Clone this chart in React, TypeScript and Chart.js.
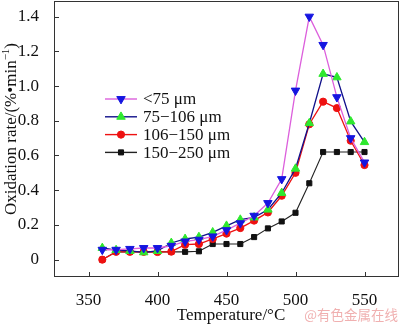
import React, { useEffect, useRef } from 'react';
import { Chart, registerables } from 'chart.js';
Chart.register(...registerables);

const temps = [360, 370, 380, 390, 400, 410, 420, 430, 440, 450, 460, 470, 480, 490, 500, 510, 520, 530, 540, 550];
const lt75 = [0.057, 0.057, 0.062, 0.067, 0.067, 0.08, 0.105, 0.115, 0.134, 0.17, 0.21, 0.253, 0.326, 0.464, 0.974, 1.4, 1.237, 0.936, 0.7, 0.56];
const s75to106 = [0.067, 0.055, 0.05, 0.042, 0.05, 0.096, 0.119, 0.13, 0.157, 0.195, 0.23, 0.243, 0.288, 0.384, 0.524, 0.786, 1.07, 1.05, 0.796, 0.677];
const s106to150 = [0, 0.045, 0.045, 0.045, 0.044, 0.046, 0.086, 0.09, 0.119, 0.15, 0.182, 0.225, 0.272, 0.368, 0.5, 0.78, 0.91, 0.873, 0.685, 0.545];
const s150to250 = [0, 0.045, 0.045, 0.045, 0.045, 0.045, 0.045, 0.048, 0.09, 0.09, 0.09, 0.13, 0.18, 0.22, 0.27, 0.44, 0.62, 0.62, 0.62, 0.62];
const seriesLabels = ['<75 μm', '75−106 μm', '106−150 μm', '150−250 μm'];
const xTicks = [350, 400, 450, 500, 550];
const yTicks = [0, 0.2, 0.4, 0.6, 0.8, 1.0, 1.2, 1.4];
const xTitle = 'Temperature/°C';
const yTitleMain = 'Oxidation rate/(%•min';
const yTitleSup = '−1';
const yTitleEnd = ')';
const watermark = '@有色金属在线';

const FONT = '"Liberation Serif", "Times New Roman", serif';

type Style = { line: string; marker: string; shape: string; rot: number; r: number; width: number };
const styles: Style[] = [
  { line: '#dc5fdc', marker: '#1515e0', shape: 'triangle', rot: 180, r: 4.9, width: 1.3 },
  { line: '#10108a', marker: '#2ee82e', shape: 'triangle', rot: 0, r: 4.9, width: 1.3 },
  { line: '#ee1111', marker: '#ee1111', shape: 'circle', rot: 0, r: 3.6, width: 1.3 },
  { line: '#222222', marker: '#111111', shape: 'rect', rot: 0, r: 3.6, width: 1.1 },
];

function drawMarker(ctx: CanvasRenderingContext2D, s: Style, x: number, y: number) {
  ctx.beginPath();
  if (s.shape === 'triangle') {
    let rad = (s.rot * Math.PI) / 180;
    for (let k = 0; k < 3; k++) {
      const px = x + Math.sin(rad) * s.r;
      const py = y - Math.cos(rad) * s.r;
      if (k === 0) ctx.moveTo(px, py); else ctx.lineTo(px, py);
      rad += (2 * Math.PI) / 3;
    }
    ctx.closePath();
  } else if (s.shape === 'circle') {
    ctx.arc(x, y, s.r, 0, Math.PI * 2);
  } else {
    const w = Math.SQRT1_2 * s.r;
    ctx.rect(x - w, y - w, 2 * w, 2 * w);
  }
  ctx.fillStyle = s.marker;
  ctx.strokeStyle = s.marker;
  ctx.lineWidth = 1;
  ctx.fill();
  ctx.stroke();
}

const framePlugin = {
  id: 'frame',
  afterDraw(chart: any) {
    const { ctx, chartArea, scales } = chart;
    const { left, right, top, bottom } = chartArea;
    ctx.save();
    ctx.strokeStyle = '#333';
    ctx.lineWidth = 1;
    ctx.strokeRect(left + 0.5, top + 0.5, right - left - 1, bottom - top - 1);
    ctx.beginPath();
    xTicks.forEach((v) => {
      const px = Math.round(scales.x.getPixelForValue(v)) + 0.5;
      ctx.moveTo(px, bottom);
      ctx.lineTo(px, bottom - 5);
    });
    yTicks.forEach((v) => {
      const py = Math.round(scales.y.getPixelForValue(v)) + 0.5;
      ctx.moveTo(left, py);
      ctx.lineTo(left + 5, py);
    });
    ctx.stroke();

    // axis titles
    ctx.fillStyle = '#111';
    ctx.textBaseline = 'alphabetic';
    ctx.font = `17px ${FONT}`;
    ctx.textAlign = 'center';
    ctx.fillText(xTitle, 231, 320);

    ctx.save();
    ctx.translate(10, 129);
    ctx.rotate(-Math.PI / 2);
    ctx.textAlign = 'left';
    ctx.font = `17px ${FONT}`;
    const w1 = ctx.measureText(yTitleMain).width;
    const w3 = ctx.measureText(yTitleEnd).width;
    ctx.font = `11px ${FONT}`;
    const w2 = ctx.measureText(yTitleSup).width;
    const W = w1 + w2 + w3;
    let cx = -W / 2;
    ctx.font = `17px ${FONT}`;
    ctx.fillText(yTitleMain, cx, 5.5);
    cx += w1;
    ctx.font = `11px ${FONT}`;
    ctx.fillText(yTitleSup, cx, -1.5);
    cx += w2;
    ctx.font = `17px ${FONT}`;
    ctx.fillText(yTitleEnd, cx, 5.5);
    ctx.restore();

    // legend
    ctx.font = `17px ${FONT}`;
    ctx.textBaseline = 'middle';
    ctx.textAlign = 'left';
    seriesLabels.forEach((lab, i) => {
      const s = styles[i];
      const yy = 99 + i * 17.8;
      ctx.beginPath();
      ctx.strokeStyle = s.line;
      ctx.lineWidth = 1.4;
      ctx.moveTo(105, yy);
      ctx.lineTo(137, yy);
      ctx.stroke();
      drawMarker(ctx, s, 121, yy);
      ctx.fillStyle = '#111';
      ctx.fillText(lab, 143, yy + 1);
    });

    // watermark
    ctx.font = '13.5px "Noto Sans CJK SC", sans-serif';
    ctx.fillStyle = 'rgba(235,150,150,0.75)';
    ctx.textAlign = 'right';
    ctx.textBaseline = 'middle';
    ctx.fillText(watermark, 398, 315);
    ctx.restore();
  },
};

function zeroPad(s: any) {
  s.paddingTop = 0;
  s.paddingBottom = 0;
  s.paddingLeft = 0;
  s.paddingRight = 0;
}

export default function App() {
  const ref = useRef<HTMLCanvasElement>(null);
  useEffect(() => {
    document.body.style.margin = '0';
    const all = [lt75, s75to106, s106to150, s150to250];
    const chart = new Chart(ref.current as HTMLCanvasElement, {
      type: 'line',
      data: {
        datasets: all.map((arr, i) => {
          const s = styles[i];
          return {
            label: seriesLabels[i],
            data: temps.map((t, k) => ({ x: t, y: arr[k] })),
            borderColor: s.line,
            backgroundColor: s.marker,
            pointBackgroundColor: s.marker,
            pointBorderColor: s.marker,
            pointBorderWidth: 1,
            pointStyle: s.shape as any,
            pointRotation: s.rot,
            pointRadius: s.r,
            borderWidth: s.width,
            tension: 0,
            fill: false,
          };
        }),
      },
      options: {
        animation: false,
        responsive: false,
        layout: { autoPadding: false, padding: { top: 1, right: 1, left: 0, bottom: 0 } },
        plugins: { legend: { display: false }, tooltip: { enabled: false } },
        scales: {
          x: {
            type: 'linear',
            min: 325,
            max: 575,
            afterBuildTicks: (s: any) => { s.ticks = xTicks.map((v) => ({ value: v })); },
            afterFit: (s: any) => { s.height = 48; zeroPad(s); },
            grid: { display: false },
            border: { display: false },
            ticks: { font: { family: FONT, size: 17 }, color: '#111', padding: 5, maxRotation: 0, autoSkip: false },
            title: { display: false },
          },
          y: {
            type: 'linear',
            min: -0.1,
            max: 1.49,
            afterBuildTicks: (s: any) => { s.ticks = yTicks.map((v) => ({ value: v })); },
            afterFit: (s: any) => { s.width = 54; zeroPad(s); },
            grid: { display: false },
            border: { display: false },
            ticks: {
              font: { family: FONT, size: 17 },
              color: '#111',
              padding: 7,
              autoSkip: false,
              callback: (v: any) => (Number(v) === 0 ? '0' : Number(v).toFixed(1)),
            },
            title: { display: false },
          },
        },
      },
      plugins: [framePlugin],
    } as any);
    return () => chart.destroy();
  }, []);
  return (
    <div style={{ width: 400, height: 325 }}>
      <canvas ref={ref} width={400} height={325} style={{ display: 'block', width: 400, height: 325 }} />
    </div>
  );
}
